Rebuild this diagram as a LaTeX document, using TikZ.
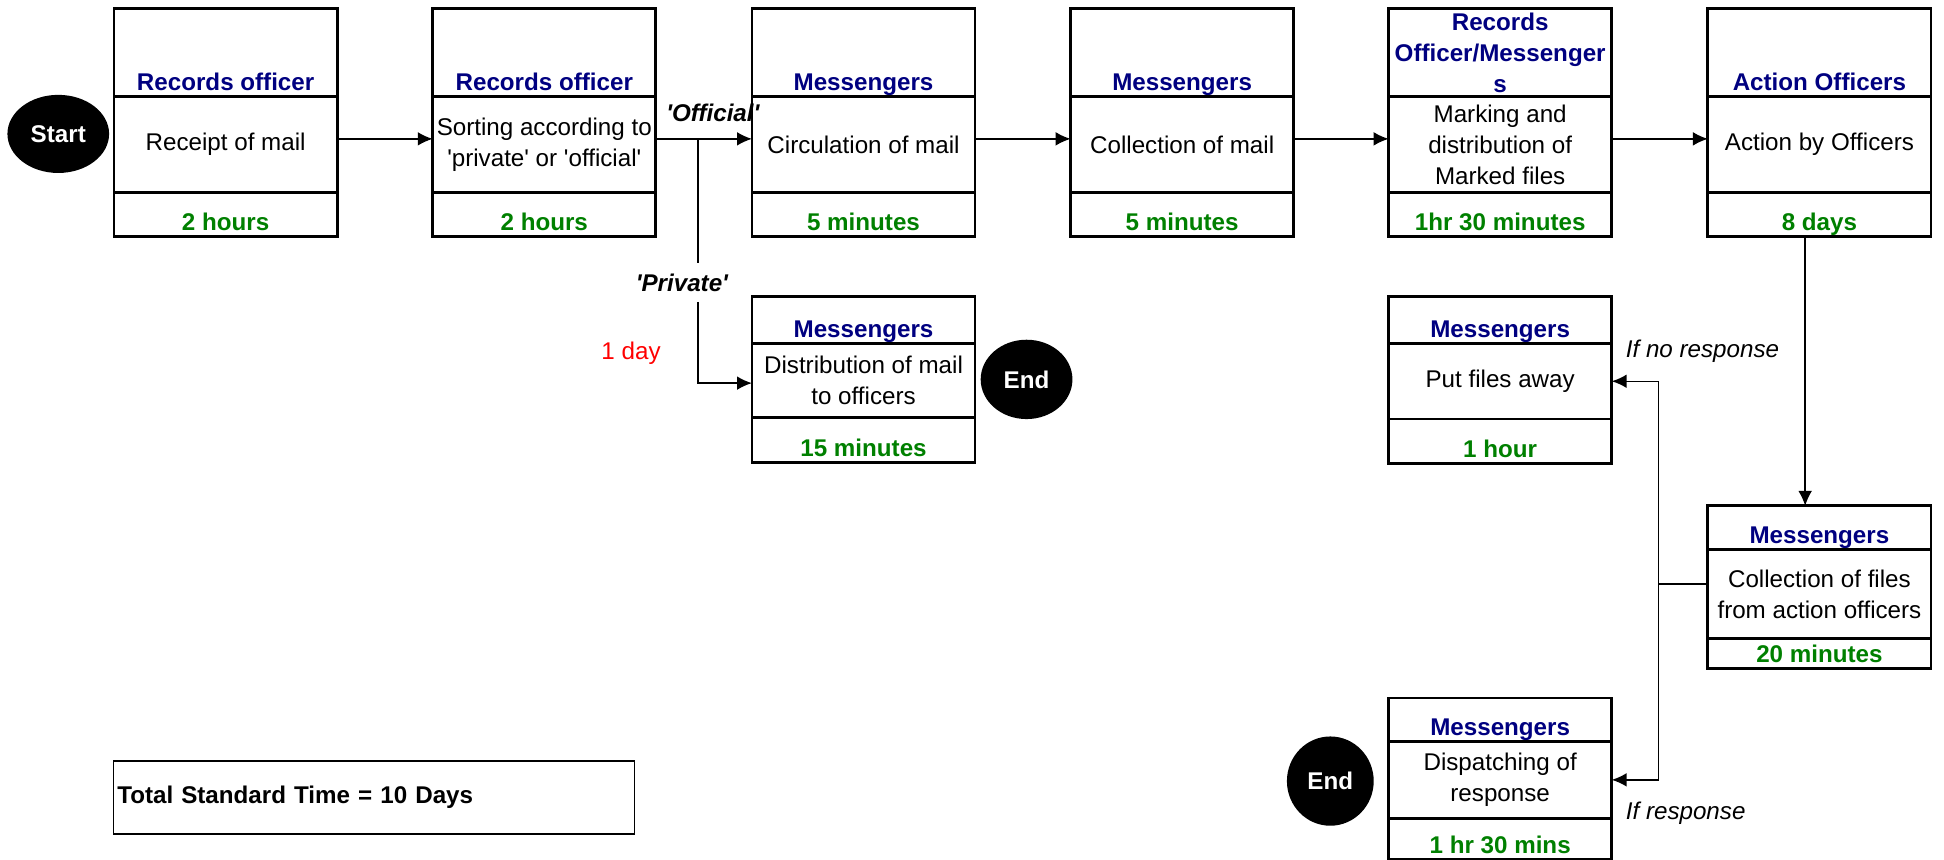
\documentclass[tikz,border=0pt]{standalone}
\usepackage{fontspec}
\setmainfont{Liberation Sans}
\newfontfamily\cellfamily{Liberation Sans}
\usetikzlibrary{arrows.meta,shapes,positioning}
\definecolor{navy}{RGB}{0,0,128}
\definecolor{timegreen}{RGB}{0,128,0}
\newcommand{\cellfont}{\cellfamily\fontsize{9.75}{12.5}\selectfont}
\tikzset{
    cell/.style={rectangle, draw, line width=1.1pt, minimum width=90pt, outer sep=0pt, inner xsep=1pt, inner ysep=0pt, align=center, font=\cellfont},
    head/.style={cell, font=\cellfont\bfseries, text=navy, text depth=2.5pt, text height=#1},
    task/.style={cell, minimum height=#1},
    time/.style={cell, font=\cellfont\bfseries, text=timegreen, text depth=2.5pt, text height=#1},
    term/.style={ellipse, fill=black, text=white, font=\cellfont\bfseries, inner sep=0pt},
    tag/.style={font=\cellfont\bfseries\itshape, inner sep=0pt},
    note/.style={font=\cellfont\itshape, inner sep=0pt, anchor=west},
    flow/.style={line width=0.6pt, -{Latex[length=6pt,width=5.5pt]}},
    link/.style={line width=0.6pt}
}

\begin{document}
\begin{tikzpicture}[x=0.5pt, y=-0.5pt]
	\useasboundingbox (0,0) rectangle (1568,693);
	\node[term, minimum width=41pt, minimum height=31.5pt] (start) at (47,108) {Start};
	% top row
	\node[head=33pt, anchor=north] (recvh) at (182,7) {Records officer};
	\node[task=38.5pt, below=0pt of recvh] (recv) {Receipt of mail};
	\node[time=15.5pt, below=0pt of recv] (recvt) {2 hours};
	\node[head=33pt, anchor=north] (sorth) at (439,7) {Records officer};
	\node[task=38.5pt, below=0pt of sorth] (sort) {Sorting according to\\'private' or 'official'};
	\node[time=15.5pt, below=0pt of sort] (sortt) {2 hours};
	\node[head=33pt, anchor=north] (circh) at (696.5,7) {Messengers};
	\node[task=38.5pt, below=0pt of circh] (circ) {Circulation of mail};
	\node[time=15.5pt, below=0pt of circ] (circt) {5 minutes};
	\node[head=33pt, anchor=north] (collh) at (953.5,7) {Messengers};
	\node[task=38.5pt, below=0pt of collh] (coll) {Collection of mail};
	\node[time=15.5pt, below=0pt of coll] (collt) {5 minutes};
	\node[cell, font=\cellfont\bfseries, text=navy, minimum height=35.5pt, anchor=north] (markh) at (1210,7) {Records\\Officer/Messenger\\s};
	\node[task=38.5pt, below=0pt of markh] (mark) {Marking and\\distribution of\\Marked files};
	\node[time=15.5pt, below=0pt of mark] (markt) {1hr 30 minutes};
	\node[head=33pt, anchor=north] (acth) at (1467.5,7) {Action Officers};
	\node[task=38.5pt, below=0pt of acth] (act) {Action by Officers};
	\node[time=15.5pt, below=0pt of act] (actt) {8 days};
	% private branch
	\node[head=16.5pt, anchor=north] (disth) at (696.5,239) {Messengers};
	\node[task=30pt, below=0pt of disth] (dist) {Distribution of mail\\to officers};
	\node[time=15.5pt, below=0pt of dist] (distt) {15 minutes};
	\node[term, minimum width=37pt, minimum height=32pt] (end1) at (828,306) {End};
	% return loop
	\node[head=16.5pt, anchor=north] (awayh) at (1210,239) {Messengers};
	\node[task=30.5pt, below=0pt of awayh] (away) {Put files away};
	\node[time=15.5pt, below=0pt of away] (awayt) {1 hour};
	\node[head=15pt, anchor=north] (cfh) at (1467.5,408) {Messengers};
	\node[task=36pt, below=0pt of cfh] (cf) {Collection of files\\from action officers};
	\node[time=9.5pt, below=0pt of cf] (cft) {20 minutes};
	\node[head=15pt, anchor=north] (disph) at (1210,563) {Messengers};
	\node[task=31pt, below=0pt of disph] (disp) {Dispatching of\\response};
	\node[time=14pt, below=0pt of disp] (dispt) {1 hr 30 mins};
	\node[term, minimum width=35pt, minimum height=36pt] (end2) at (1073,630) {End};
	% labels
	\node[tag] (official) at (575,91) {'Official'};
	\node[tag] (private) at (550,228) {'Private'};
	\node[font=\cellfont, text=red, inner sep=0pt] (oneday) at (509,285) {1 day};
	\node[note] (noresp) at (1311,283) {If no response};
	\node[note] (resp) at (1311,656) {If response};
	\node[draw, line width=0.6pt, anchor=north west, text width=207pt, inner xsep=1.5pt, minimum height=29.5pt, align=left, font=\cellfont\bfseries] (total) at (91,613) {Total Standard Time = 10 Days};
	% connectors
	\draw[flow] ([yshift=2.25pt]recv.east) -- ([yshift=2.25pt]sort.west);
	\draw[flow] ([yshift=2.25pt]sort.east) -- ([yshift=2.25pt]circ.west);
	\coordinate (fork) at ([xshift=17pt,yshift=2.25pt]sort.east);
	\draw[link] (fork) -- ([yshift=4pt]fork |- private.north);
	\draw[flow] ([yshift=-4pt]fork |- private.south) |- ([yshift=-1pt]dist.west);
	\draw[flow] ([yshift=2.25pt]circ.east) -- ([yshift=2.25pt]coll.west);
	\draw[flow] ([yshift=2.25pt]coll.east) -- ([yshift=2.25pt]mark.west);
	\draw[flow] ([yshift=2.25pt]mark.east) -- ([yshift=2.25pt]act.west);
	\draw[flow] ([xshift=-5.75pt]actt.south) -- ([xshift=-5.75pt]cfh.north);
	\coordinate (split) at ([xshift=-20pt,yshift=4pt]cf.west);
	\draw[link] ([yshift=4pt]cf.west) -- (split);
	\draw[flow] (split) |- (away.east);
	\draw[flow] (split) |- (disp.east);
\end{tikzpicture}
\end{document}
